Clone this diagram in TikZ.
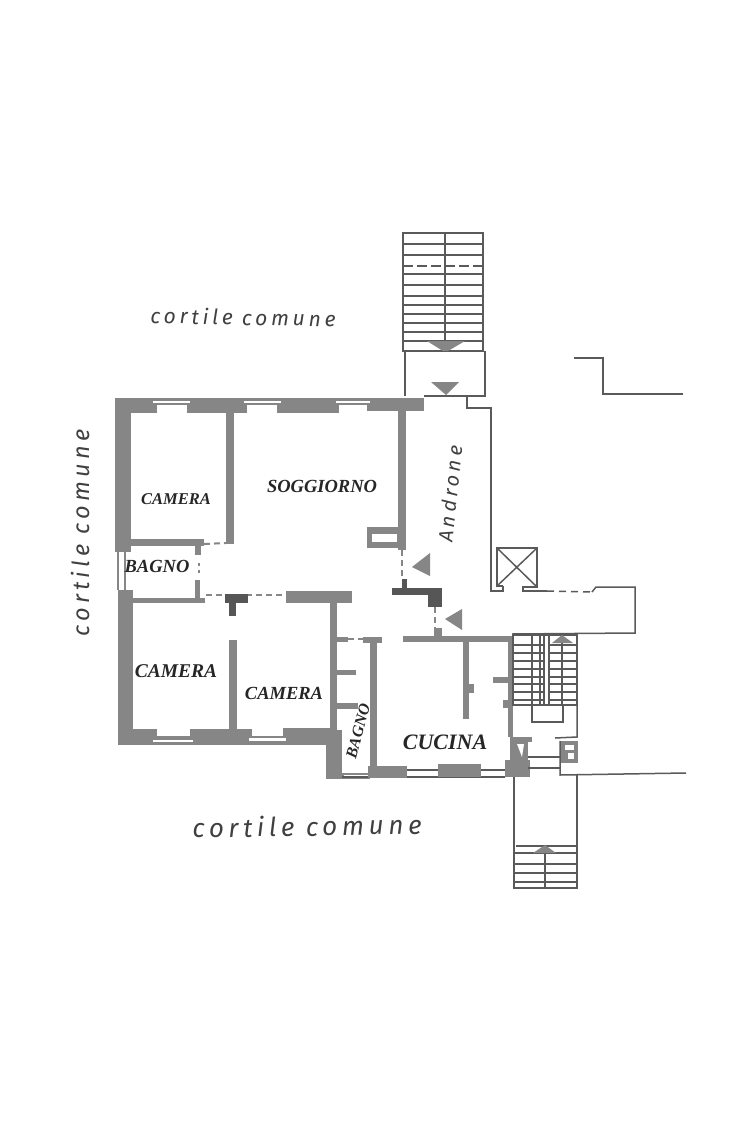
\documentclass[tikz,border=0pt]{standalone}
\usepackage{fontspec}
\setmainfont{Liberation Serif}
\newfontfamily\handfont[LetterSpace=18]{Fira Sans}
\definecolor{wallgray}{HTML}{868686}
\definecolor{darkgray}{HTML}{565656}
\definecolor{linegray}{HTML}{5A5A5A}
\tikzset{
	wallfill/.style={fill=wallgray},
	darkfill/.style={fill=darkgray},
	slot/.style={fill=white},
	thinwall/.style={draw=linegray,line width=1.5pt},
	dashwall/.style={draw=wallgray,line width=2pt,dash pattern=on 6pt off 4pt},
	roomlabel/.style={font=\bfseries\itshape,text=black!85,inner sep=0pt},
	handlabel/.style={font=\handfont\itshape,text=black!75,inner sep=0pt}
}
\begin{document}
\begin{tikzpicture}[x=1pt,y=-1pt]
	\useasboundingbox[fill=white] (0,0) rectangle (755,1132);

	% outer walls, left block
	\fill[wallfill] (115,398) rectangle (424,405);
	\fill[wallfill] (115,398) rectangle (157,413);
	\fill[wallfill] (187,398) rectangle (247,413);
	\fill[wallfill] (277,398) rectangle (339,413);
	\fill[wallfill] (367,398) rectangle (424,411);
	\fill[wallfill] (115,398) rectangle (131,552);
	\fill[wallfill] (117,552) rectangle (126,590);
	\fill[wallfill] (118,590) rectangle (133,745);
	\fill[wallfill] (118,736) rectangle (330,745);
	\fill[wallfill] (118,729) rectangle (157,745);
	\fill[wallfill] (190,729) rectangle (252,745);
	\fill[wallfill] (283,728) rectangle (337,745);
	\fill[wallfill] (326,730) rectangle (342,779);
	\fill[wallfill] (326,773) rectangle (370,779);

	% windows
	\fill[slot] (153,401) rectangle (190,403);
	\fill[slot] (244,401) rectangle (281,403);
	\fill[slot] (336,401) rectangle (370,403);
	\fill[slot] (119,552) rectangle (124,590);
	\fill[slot] (153,740) rectangle (193,742);
	\fill[slot] (249,738) rectangle (286,741);
	\fill[slot] (344,775) rectangle (370,777);

	% inner walls
	\fill[wallfill] (226,413) rectangle (234,544);
	\fill[wallfill] (131,539) rectangle (204,546);
	\fill[wallfill] (195,546) rectangle (201,555);
	\fill[wallfill] (195,580) rectangle (200,600);
	\fill[wallfill] (133,598) rectangle (205,603);
	\fill[wallfill] (286,591) rectangle (352,603);
	\fill[wallfill] (330,603) rectangle (337,730);
	\fill[wallfill] (229,640) rectangle (237,730);
	\fill[wallfill] (337,637) rectangle (348,642);
	\fill[wallfill] (363,637) rectangle (382,643);
	\fill[wallfill] (370,643) rectangle (377,770);
	\fill[wallfill] (337,670) rectangle (356,675);
	\fill[wallfill] (337,703) rectangle (358,709);
	\fill[wallfill] (398,411) rectangle (406,550);
	\fill[wallfill] (367,527) rectangle (400,548);
	\fill[slot] (372,534) rectangle (397,542);

	% dashed openings
	\draw[dashwall] (204,544) -- (226,543);
	\draw[dashwall] (206,595) -- (286,595);
	\draw[dashwall] (348,639) -- (363,639);
	\draw[dashwall] (402,550) -- (402,579);
	\draw[dashwall] (435,607) -- (435,628);
	\fill[wallfill] (198,563) rectangle (200,566);
	\fill[wallfill] (198,570) rectangle (200,573);

	% dark pillars
	\fill[darkfill] (225,594) rectangle (248,603);
	\fill[darkfill] (229,603) rectangle (236,616);
	\fill[darkfill] (392,588) rectangle (442,595);
	\fill[darkfill] (428,595) rectangle (442,607);
	\fill[darkfill] (402,579) rectangle (407,588);

	% kitchen
	\fill[wallfill] (403,636) rectangle (513,642);
	\fill[wallfill] (434,628) rectangle (442,636);
	\fill[wallfill] (463,642) rectangle (469,719);
	\fill[wallfill] (469,684) rectangle (474,693);
	\fill[wallfill] (508,642) rectangle (513,737);
	\fill[wallfill] (493,677) rectangle (508,683);
	\fill[wallfill] (503,700) rectangle (508,708);
	\draw[thinwall] (370,770) -- (505,770) (342,777) -- (505,777);
	\fill[wallfill] (368,766) rectangle (407,778);
	\fill[wallfill] (438,764) rectangle (481,777);
	\fill[wallfill] (505,760) rectangle (530,777);
	\fill[wallfill] (510,737) rectangle (528,760);
	\fill[wallfill] (517,737) rectangle (532,742);
	\fill[slot] (517,744) -- (524,744) -- (522,757) -- cycle;

	% arrows on the floor
	\fill[wallfill] (412,567) -- (430,553) -- (430,576) -- cycle;
	\fill[wallfill] (445,619) -- (462,609) -- (462,630) -- cycle;
	\fill[wallfill] (431,382) -- (459,382) -- (446,395) -- cycle;

	% entrance hall
	\draw[thinwall] (424,396) -- (485,396) -- (485,351);
	\draw[thinwall] (405,396) -- (405,351);
	\draw[thinwall] (467,396) -- (467,408) -- (491,408) -- (491,591) -- (503,591) -- (503,586);
	\draw[thinwall] (503,586) -- (497,586) -- (497,548) -- (537,548) -- (537,587) -- (523,587) -- (523,591) -- (547,591);
	\draw[thinwall] (497,586) -- (537,548) (497,548) -- (537,587);
	\draw[thinwall,dash pattern=on 7pt off 5pt] (547,591) -- (592,592);
	\draw[thinwall] (592,592) -- (596,587) -- (635,587) -- (635,633) -- (512,634);

	% top stairs
	\draw[thinwall] (403,233) rectangle (483,351);
	\draw[thinwall] (445,233) -- (445,341);
	\draw[thinwall]
		(403,244) -- (483,244)
		(403,255) -- (483,255)
		(403,274) -- (483,274)
		(403,285) -- (483,285)
		(403,296) -- (483,296)
		(403,305) -- (483,305)
		(403,314) -- (483,314)
		(403,323) -- (483,323)
		(403,332) -- (483,332)
		(403,341) -- (483,341);
	\draw[thinwall,dash pattern=on 10pt off 4pt] (403,266) -- (483,266);
	\fill[wallfill] (427,341) -- (465,341) -- (448,351) -- (443,351) -- cycle;

	% side stairs
	\draw[thinwall] (513,635) rectangle (577,705);
	\draw[thinwall]
		(532,635) -- (532,705)
		(540,635) -- (540,705)
		(544,635) -- (544,705)
		(549,635) -- (549,705)
		(562,635) -- (562,705);
	\draw[thinwall]
		(513,645) -- (543,645) (548,645) -- (577,645)
		(513,653) -- (543,653) (548,653) -- (577,653)
		(513,661) -- (543,661) (548,661) -- (577,661)
		(513,669) -- (543,669) (548,669) -- (577,669)
		(513,677) -- (543,677) (548,677) -- (577,677)
		(513,684) -- (543,684) (548,684) -- (577,684)
		(513,692) -- (543,692) (548,692) -- (577,692)
		(513,700) -- (543,700) (548,700) -- (577,700);
	\fill[wallfill] (562,635) -- (552,643) -- (573,643) -- cycle;
	\draw[thinwall] (532,705) rectangle (563,722);
	\draw[thinwall] (577,705) -- (577,737) -- (555,738);
	\fill[wallfill] (560,741) rectangle (578,763);
	\fill[slot] (565,745) rectangle (574,750);
	\fill[slot] (568,753) rectangle (574,759);
	\draw[thinwall] (528,757) -- (560,757) (528,768) -- (560,768);
	\draw[thinwall] (560,741) -- (560,775) -- (686,773);

	% bottom stairs
	\draw[thinwall] (514,777) -- (514,888) -- (577,888) -- (577,775);
	\draw[thinwall] (545,853) -- (545,888);
	\draw[thinwall]
		(516,846) -- (577,846)
		(514,853) -- (577,853)
		(514,864) -- (577,864)
		(514,873) -- (577,873)
		(514,882) -- (577,882);
	\fill[wallfill] (545,845) -- (533,853) -- (556,853) -- cycle;

	% building on the right
	\draw[thinwall] (574,358) -- (603,358) -- (603,394) -- (683,394);

	% room names
	\node (soggiorno) [roomlabel,font=\fontsize{18.5}{20}\selectfont\bfseries\itshape] at (322,486) {SOGGIORNO};
	\node (cameraA) [roomlabel,font=\fontsize{16.5}{18}\selectfont\bfseries\itshape] at (176,499) {CAMERA};
	\node (bagnoA) [roomlabel,font=\fontsize{18.5}{20}\selectfont\bfseries\itshape] at (157,566) {BAGNO};
	\node (cameraB) [roomlabel,font=\fontsize{19.5}{21}\selectfont\bfseries\itshape] at (176,671) {CAMERA};
	\node (cameraC) [roomlabel,font=\fontsize{18.5}{20}\selectfont\bfseries\itshape] at (284,693) {CAMERA};
	\node (bagnoB) [roomlabel,rotate=75,font=\fontsize{16}{18}\selectfont\bfseries\itshape] at (358,731) {BAGNO};
	\node (cucina) [roomlabel,font=\fontsize{22}{24}\selectfont\bfseries\itshape] at (445,742) {CUCINA};

	% handwritten names
	\node (cortileTop) [handlabel,rotate=-1,font=\fontsize{21}{23}\selectfont\handfont\itshape] at (243,317) {cortile comune};
	\node (cortileLeft) [handlabel,rotate=90,font=\fontsize{23.5}{25}\selectfont\handfont\itshape] at (80,533) {cortile comune};
	\node (cortileBottom) [handlabel,rotate=1,font=\fontsize{26}{28}\selectfont\handfont\itshape] at (307,826) {cortile comune};
	\node (androne) [handlabel,rotate=84,font=\fontsize{20}{22}\selectfont\handfont\itshape] at (450,494) {Androne};
\end{tikzpicture}
\end{document}
